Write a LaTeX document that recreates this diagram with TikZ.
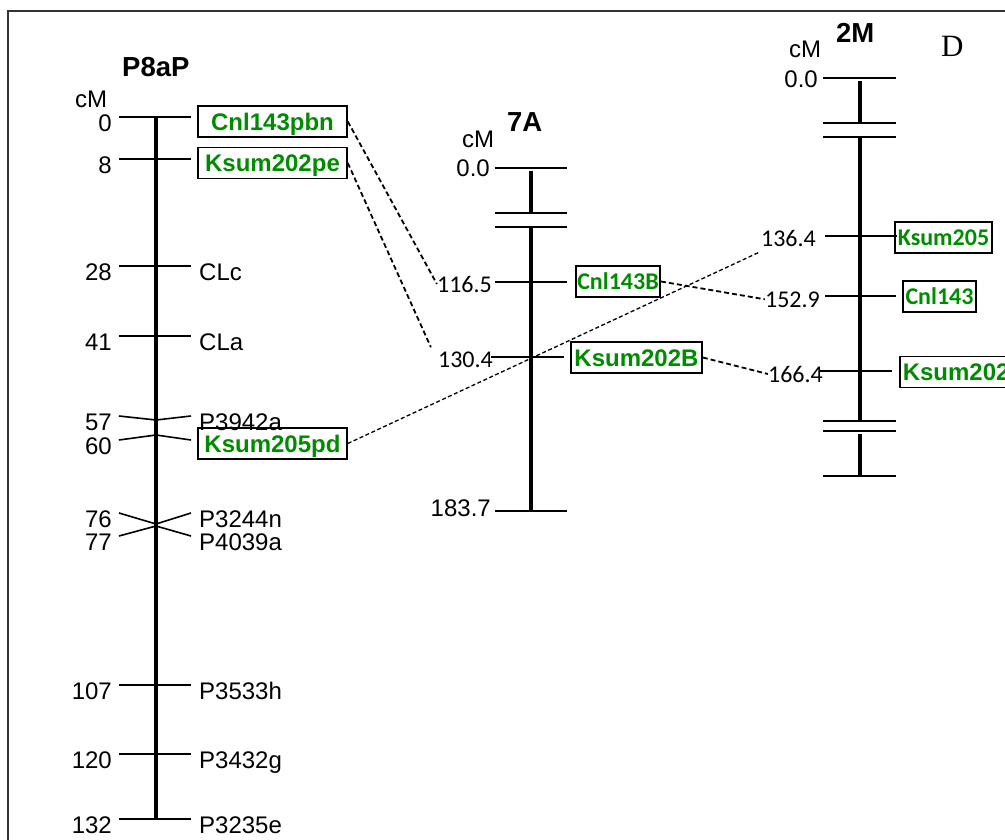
\documentclass[tikz,border=0pt]{standalone}
\usepackage{fontspec}
\setmainfont{Liberation Sans}
\newfontfamily\carlito{Carlito}
\newfontfamily\serifD{Liberation Serif}
\definecolor{mkgreen}{RGB}{0,140,0}
\begin{document}
\begin{tikzpicture}[x=1pt,y=-1pt,
  chrom/.style={line width=3.2pt},
  tick/.style={line width=1.6pt},
  num/.style={inner sep=0pt, anchor=base east, font=\fontsize{24}{24}\selectfont},
  lab/.style={inner sep=0pt, anchor=base west, font=\fontsize{24}{24}\selectfont},
  cnum/.style={inner sep=0pt, anchor=base east, font=\carlito\fontsize{24}{24}\selectfont},
  head/.style={inner sep=0pt, anchor=base west, font=\bfseries\fontsize{27.5}{27.5}\selectfont},
  mbox/.style={draw, line width=1.6pt, text=mkgreen, inner ysep=0pt, minimum height=31pt,
    font=\bfseries\fontsize{24}{24}\selectfont, text height=17.2pt, text depth=0pt},
  cbox/.style={mbox, font=\carlito\bfseries\fontsize{24}{24}\selectfont, text height=15.5pt},
  pbox/.style={mbox, minimum width=149pt, inner xsep=0pt},
  link/.style={dash pattern=on 5pt off 3pt, line width=1.8pt},
  thinlink/.style={dash pattern=on 4pt off 2.5pt, line width=1.3pt},
]
\useasboundingbox (0,0) rectangle (1005,840);
\clip (0,0) rectangle (1005,840);
% frame
\draw[line width=1.6pt, black!80] (8,850) -- (8,11) -- (1015,11);

% ---------------- P8aP ----------------
\node[head] (hP) at (122,77) {P8aP};
\node[lab] (cmP) at (75,108) {cM};
\draw[chrom] (156,117) -- (156,819);
\draw[tick] (119,117) -- (191,117);
\node[num] (n0) at (112,131.5) {0};
\node[pbox] (bCnlpbn) at (272.5,121.5) {Cnl143pbn};
\draw[tick] (119,159) -- (191,159);
\node[num] (n8) at (112,173.5) {8};
\node[pbox] (bKsumpe) at (272.5,163) {Ksum202pe};
\foreach \y/\n/\l in {266/28/CLc, 336/41/CLa, 685/107/P3533h, 754/120/P3432g, 819/132/P3235e}{
  \draw[tick] (119,\y) -- (191,\y);
  \node[num] (n\n) at (112,\y+14.5) {\n};
  \node[lab] (m\n) at (199,\y+14.5) {\l};
}
\draw[tick] (119,416) -- (156,420) -- (191,416);
\draw[tick] (119,440) -- (156,435) -- (191,440);
\node[num] (n57) at (112,430.5) {57};
\node[lab] (m57) at (199,430.5) {P3942a};
\node[num] (n60) at (112,454.5) {60};
\node[pbox] (bKsumpd) at (272.5,443.5) {Ksum205pd};
\draw[tick] (119,513) -- (156,524) -- (191,513);
\draw[tick] (119,536) -- (156,526) -- (191,536);
\node[num] (n76) at (112,527.5) {76};
\node[lab] (m76) at (199,527.5) {P3244n};
\node[num] (n77) at (112,550.5) {77};
\node[lab] (m77) at (199,550.5) {P4039a};

% ---------------- 7A ----------------
\node[head] (h7) at (507,132) {7A};
\node[lab] (cm7) at (462,148) {cM};
\draw[tick] (495,168) -- (567,168);
\draw[chrom] (531,171) -- (531,213);
\draw[tick] (495,213) -- (567,213);
\draw[tick] (495,227) -- (567,227);
\draw[chrom] (531,227) -- (531,511);
\draw[tick] (495,282) -- (567,282);
\draw[tick] (491,357) -- (564,357);
\draw[tick] (495,511) -- (567,511);
\node[num] (n00a) at (490,177) {0.0};
\node[cnum] (n1165) at (492,292) {116.5};
\node[cnum] (n1304) at (493,367) {130.4};
\node[num] (n1837) at (491,516) {183.7};
\node[cbox, inner xsep=1.5pt] (bCnlB) at (618,281.5) {Cnl143B};
\node[mbox, inner xsep=3.5pt] (bKsumB) at (636.5,357.5) {Ksum202B};

% ---------------- 2M ----------------
\node[head] (h2) at (836,43) {2M};
\node[lab] (cm2) at (789,58) {cM};
\node[inner sep=0pt, anchor=base west, font=\serifD\fontsize{31}{31}\selectfont] (D) at (941,57) {D};
\draw[tick] (823,78) -- (896,78);
\draw[chrom] (860,81) -- (860,123);
\draw[tick] (823,123) -- (896,123);
\draw[tick] (823,137) -- (896,137);
\draw[chrom] (860,137) -- (860,421);
\draw[tick] (825,236) -- (897,236);
\draw[tick] (825,296) -- (896,296);
\draw[tick] (820,371) -- (892,371);
\draw[tick] (823,421) -- (896,421);
\draw[tick] (823,431) -- (896,431);
\draw[chrom] (860,434) -- (860,476);
\draw[tick] (823,476) -- (896,476);
\node[num] (n00b) at (818,88) {0.0};
\node[cnum] (n1364) at (816,247) {136.4};
\node[cnum] (n1529) at (820,307) {152.9};
\node[cnum] (n1664) at (823,382) {166.4};
\node[cbox, inner xsep=3pt] (bKsum205) at (943.5,237.5) {Ksum205};
\node[cbox, inner xsep=2.5pt] (bCnl143) at (939.5,296.5) {Cnl143};
\node[mbox, inner xsep=3pt, anchor=west] (bKsum202) at (899,372) {Ksum202};

% ---------------- links ----------------
\draw[link] (bCnlpbn.east) -- (n1165.west);
\draw[link] (bKsumpe.east) -- ([xshift=-7pt,yshift=4pt]n1304.north west);
\draw[thinlink] (bKsumpd.east) -- ([xshift=-2pt,yshift=-5pt]n1364.south west);
\draw[link] (bCnlB.east) -- (n1529.west);
\draw[link] (bKsumB.east) -- (n1664.west);
\end{tikzpicture}
\end{document}
